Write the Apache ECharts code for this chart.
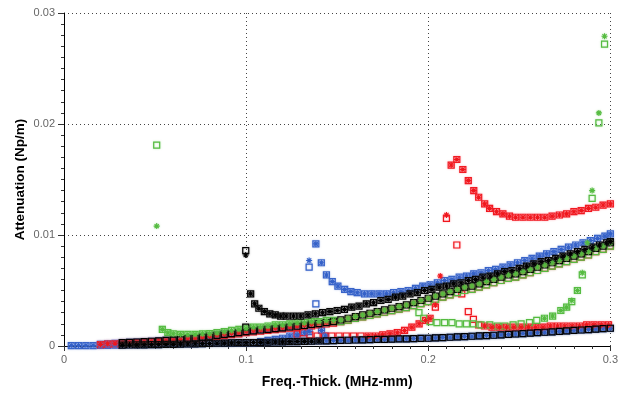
<!DOCTYPE html>
<html>
<head>
<meta charset="utf-8">
<script src="https://cdn.jsdelivr.net/npm/echarts@6/dist/echarts.min.js"></script>
<style>
  html, body { margin: 0; padding: 0; background: #fff; }
  #chart { width: 621px; height: 394px; }
</style>
</head>
<body>
<div id="chart"></div>
<script>
// ---- tick labels ----
const xTicks = [0, 0.1, 0.2, 0.3];
const yTicks = [0, 0.01, 0.02, 0.03];

// ---- shared frequency-thickness sampling of the bands (MHz-mm) ----
const gridX = [
  0.004,0.008,0.012,0.016,0.020,0.024,0.028,0.032,0.036,0.040,
  0.044,0.048,0.052,0.056,0.060,0.064,0.068,0.072,0.076,0.080,
  0.084,0.088,0.092,0.096,0.100,0.104,0.108,0.112,0.116,0.120,
  0.124,0.128,0.132,0.136,0.140,0.144,0.148,0.152,0.156,0.160,
  0.164,0.168,0.172,0.176,0.180,0.184,0.188,0.192,0.196,0.200,
  0.204,0.208,0.212,0.216,0.220,0.224,0.228,0.232,0.236,0.240,
  0.244,0.248,0.252,0.256,0.260,0.264,0.268,0.272,0.276,0.280,
  0.284,0.288,0.292,0.296,0.300
];
// low (near-zero) band attenuation (Np/m)
const lowBandY = [
  0.00004,0.00004,0.00004,0.00004,0.00005,0.00006,0.00007,0.00008,0.00009,0.0001,
  0.00011,0.00012,0.00013,0.00014,0.00015,0.00017,0.00018,0.0002,0.00021,0.00023,
  0.00025,0.00026,0.00028,0.0003,0.0003,0.00031,0.00033,0.00034,0.00036,0.00037,
  0.00039,0.0004,0.00042,0.00043,0.00045,0.00047,0.00049,0.0005,0.00052,0.00054,
  0.00055,0.00057,0.00059,0.0006,0.00062,0.00064,0.00065,0.00067,0.00069,0.0007,
  0.00073,0.00076,0.00079,0.00082,0.00085,0.00088,0.00091,0.00094,0.00097,0.001,
  0.00104,0.00108,0.00112,0.00116,0.0012,0.00124,0.00128,0.00132,0.00136,0.0014,
  0.00144,0.00148,0.00152,0.00156,0.0016
];
// main rising band attenuation (Np/m)
const mainBandY = [
  null,null,null,null,0.00015,0.0002,0.00025,0.0003,0.00033,0.00036,
  0.0004,0.00043,0.00046,0.0005,0.00053,0.00058,0.00065,0.0007,0.0008,0.00088,
  0.00096,0.00104,0.00112,0.0012,0.0013,0.00137,0.00144,0.0015,0.00157,0.00164,
  0.00171,0.00178,0.00186,0.00194,0.00202,0.0021,0.0022,0.00235,0.0025,0.00265,
  0.0028,0.00295,0.0031,0.00325,0.0034,0.00355,0.0037,0.0039,0.0041,0.0043,
  0.0045,0.0047,0.0049,0.0051,0.0053,0.0054,0.0056,0.0058,0.006,0.0062,
  0.0064,0.0065,0.0067,0.0069,0.0071,0.0073,0.0075,0.0077,0.0079,0.0081,
  0.0083,0.0085,0.0088,0.009,0.0093
];
// lower edge of the main band (red / green squares)
const mainBandLowerY = [
  null,null,null,null,0.00012,0.00016,0.0002,0.00024,0.00027,0.0003,
  0.00034,0.00037,0.0004,0.00043,0.00046,0.0005,0.00056,0.00062,0.0007,0.00078,
  0.00086,0.00094,0.00102,0.0011,0.0012,0.00127,0.00134,0.0014,0.00147,0.00154,
  0.00161,0.00168,0.00175,0.00182,0.0019,0.00198,0.00206,0.0022,0.00234,0.00248,
  0.00262,0.00276,0.0029,0.00304,0.00318,0.00332,0.00346,0.00364,0.00382,0.004,
  0.0042,0.0044,0.0046,0.0048,0.005,0.0051,0.0053,0.0055,0.0057,0.0059,
  0.0061,0.0062,0.0064,0.0066,0.0068,0.007,0.0072,0.0074,0.0076,0.0078,
  0.008,0.0082,0.0085,0.0087,0.009
];

// ---- blue branches ----
const blueUpper = [
  [0.1383,0.0092],[0.1413,0.0075],[0.1441,0.0064],[0.1473,0.0058],[0.1504,0.0054],[0.1541,0.0051],
  [0.1575,0.0049],[0.161,0.0048],[0.165,0.0047],[0.169,0.0047],[0.173,0.0047],[0.177,0.0047],
  [0.181,0.0048],[0.185,0.0049],[0.189,0.005],[0.193,0.0052],[0.197,0.0054],[0.201,0.0055],
  [0.205,0.0057],[0.209,0.0059],[0.213,0.006],[0.217,0.0062],[0.221,0.0063],[0.225,0.0065],
  [0.229,0.0066],[0.233,0.0068],[0.237,0.0069],[0.241,0.0071],[0.245,0.0073],[0.249,0.0075],
  [0.253,0.0077],[0.257,0.0079],[0.261,0.0081],[0.265,0.0083],[0.269,0.0085],[0.273,0.0087],
  [0.277,0.0089],[0.281,0.0091],[0.285,0.0093],[0.289,0.0095],[0.293,0.0097],[0.297,0.0099],
  [0.300,0.0101]
];
const blueBump = [
  [0.108,0.0004],[0.112,0.0005],[0.116,0.0006],[0.120,0.0007],[0.124,0.0009],[0.128,0.0010],
  [0.132,0.0012],[0.1346,0.0013],[0.1414,0.0014],[0.1435,0.0009]
];
const blueExtraSq = [[0.1346,0.0071],[0.1383,0.0038]];
const blueExtraStar = [[0.1346,0.0077]];

// ---- red branches ----
const redLow = [
  [0.128,0.0011],[0.131,0.0012],[0.135,0.001],[0.139,0.0009],[0.143,0.0009],[0.147,0.0009],
  [0.151,0.0009],[0.155,0.0009],[0.159,0.0009],[0.163,0.0009],[0.167,0.0009],[0.171,0.0009],
  [0.175,0.001],[0.179,0.0011],[0.183,0.0012],[0.187,0.0014],[0.191,0.0017],[0.195,0.002],
  [0.1985,0.0023],[0.201,0.0025]
];
const redSpikeSq = [
  [0.2039,0.0035],[0.2100,0.0115],[0.2157,0.0091],[0.2184,0.0047],[0.2220,0.0031],
  [0.2248,0.0024],[0.2277,0.0019]
];
const redSpikeStar = [[0.2039,0.0037],[0.2066,0.0063],[0.2100,0.0118]];
const redUpper = [
  [0.2126,0.0163],[0.2157,0.0168],[0.219,0.0159],[0.222,0.0149],[0.225,0.014],[0.2277,0.0134],
  [0.231,0.0128],[0.2337,0.0124],[0.2375,0.0121],[0.241,0.0119],[0.2446,0.0117],[0.248,0.0116],
  [0.252,0.0116],[0.256,0.0116],[0.260,0.0116],[0.264,0.0116],[0.268,0.0117],[0.272,0.0118],
  [0.276,0.0119],[0.280,0.0121],[0.284,0.0122],[0.288,0.0124],[0.292,0.0125],[0.296,0.0127],
  [0.300,0.0128]
];
const redFlat = [
  [0.231,0.0018],[0.235,0.0017],[0.239,0.0017],[0.243,0.0017],[0.247,0.0017],[0.251,0.0017],
  [0.255,0.0017],[0.259,0.0017],[0.263,0.0017],[0.267,0.0018],[0.271,0.0018],[0.275,0.0018],
  [0.279,0.0018],[0.283,0.0018],[0.287,0.0019],[0.291,0.0019],[0.295,0.0019],[0.299,0.0019]
];

// ---- green branches ----
const greenSpikeSq = [[0.0509,0.0181]];
const greenSpikeStar = [[0.0509,0.0108]];
const greenLeft = [
  [0.054,0.0015],[0.057,0.0012],[0.060,0.0011],[0.064,0.00105],[0.068,0.00104],[0.072,0.00105],
  [0.076,0.0011],[0.080,0.00112],[0.084,0.0012],[0.088,0.0013],[0.092,0.0014],[0.096,0.0015],
  [0.100,0.0016],[0.104,0.0017],[0.108,0.0017],[0.112,0.0018],[0.116,0.0019],[0.120,0.0019],
  [0.124,0.002],[0.128,0.0021],[0.132,0.0021],[0.136,0.0022],[0.140,0.0022],[0.144,0.0023],
  [0.148,0.0023]
];
const greenRightSq = [
  [0.1949,0.003],[0.1975,0.0025],[0.201,0.0022],[0.2048,0.0021],[0.209,0.0021],[0.213,0.0021],
  [0.217,0.002],[0.221,0.002],[0.2248,0.002],[0.229,0.0019],[0.2338,0.0019],[0.238,0.0018],
  [0.242,0.0018],[0.2466,0.0019],[0.251,0.002],[0.2556,0.0021],[0.2596,0.0023],[0.2638,0.0025],
  [0.2683,0.0027],[0.2728,0.0032],[0.276,0.0035],[0.2788,0.004],[0.2819,0.005],[0.2846,0.0064],
  [0.2900,0.0133],[0.2937,0.0201],[0.2968,0.0272]
];
const greenRightStar = [
  [0.2638,0.0025],[0.2683,0.0027],[0.2728,0.0032],[0.276,0.0035],[0.2788,0.0041],[0.2819,0.005],
  [0.2846,0.0066],[0.2874,0.0093],[0.2900,0.014],[0.2937,0.021],[0.2968,0.0279]
];

// ---- black branches ----
const blackSpikeSq = [[0.0998,0.0086],[0.0998,0.0017]];
const blackSpikeStar = [[0.0998,0.0082]];
const blackUpper = [
  [0.1025,0.0047],[0.1047,0.0038],[0.107,0.0034],[0.110,0.0031],[0.113,0.0029],[0.116,0.0028],
  [0.119,0.0027],[0.122,0.0027],[0.126,0.0027],[0.130,0.0027],[0.134,0.0028],[0.138,0.0029],
  [0.142,0.003],[0.146,0.0031],[0.150,0.0032],[0.154,0.0033],[0.158,0.0035],[0.162,0.0036],
  [0.166,0.0038],[0.170,0.0039],[0.174,0.0041],[0.178,0.0042],[0.182,0.0044],[0.186,0.0045],
  [0.190,0.0047],[0.194,0.0048],[0.198,0.005],[0.202,0.0051],[0.206,0.0053],[0.210,0.0054],
  [0.214,0.0056],[0.218,0.0057],[0.222,0.0059],[0.226,0.006],[0.230,0.0062],[0.234,0.0063],
  [0.238,0.0065],[0.242,0.0067],[0.246,0.0068],[0.250,0.007],[0.254,0.0072],[0.258,0.0074],
  [0.262,0.0076],[0.266,0.0077],[0.270,0.0079],[0.274,0.0081],[0.278,0.0083],[0.282,0.0085],
  [0.286,0.0087],[0.290,0.0089],[0.294,0.0091],[0.298,0.0093],[0.300,0.0094]
];

// ---- helpers ----
function band(ys, x0, x1) {
  return gridX.map((x, i) => [x, ys[i]])
    .filter(p => p[1] != null && p[0] >= x0 - 1e-9 && p[0] <= x1 + 1e-9);
}
const COLORS = { red: '#f0161c', green: '#55bb40', blue: '#3360c8', black: '#000000' };
const HALO = { red: 'rgba(255,90,110,0.55)', green: 'rgba(120,210,110,0.55)', blue: 'rgba(110,140,220,0.55)', black: 'rgba(90,90,90,0.5)' };
const STAR = 'path://M4,0L4,8M0,4L8,4M1.2,1.2L6.8,6.8M1.2,6.8L6.8,1.2';

function sq(name, c, data) {
  return {
    name, type: 'scatter', data, symbol: 'rect', symbolSize: 6,
    itemStyle: { color: 'rgba(0,0,0,0)', borderColor: COLORS[c], borderWidth: 1.2, opacity: 1,
      shadowBlur: 2, shadowColor: HALO[c] },
    emphasis: { disabled: true }, animation: false
  };
}
function star(name, c, data) {
  return {
    name, type: 'scatter', data, symbol: STAR, symbolSize: 6,
    itemStyle: { color: COLORS[c], borderColor: COLORS[c], borderWidth: 1.1, opacity: 1,
      shadowBlur: 2, shadowColor: HALO[c] },
    emphasis: { disabled: true }, animation: false
  };
}

const series = [
  sq('Blue (sq)', 'blue', [].concat(band(lowBandY, 0, 0.3), band(mainBandY, 0.02, 0.128), blueBump, blueUpper, blueExtraSq)),
  sq('Red (sq)', 'red', [].concat(band(mainBandLowerY, 0.02, 0.3), redLow, redSpikeSq, redUpper, redFlat)),
  sq('Green (sq)', 'green', [].concat(greenSpikeSq, greenLeft, band(mainBandLowerY, 0.152, 0.3), greenRightSq)),
  star('Blue (*)', 'blue', [].concat(band(lowBandY, 0, 0.3), band(mainBandY, 0.02, 0.128), blueBump, blueUpper, blueExtraStar)),
  star('Red (*)', 'red', [].concat(band(mainBandY, 0.02, 0.3), redLow.filter(p => p[0] > 0.165), redSpikeStar, redUpper, redFlat)),
  sq('Black (sq)', 'black', [].concat(band(lowBandY, 0.032, 0.3), band(mainBandY, 0.032, 0.3), blackSpikeSq, blackUpper)),
  star('Green (*)', 'green', [].concat(greenSpikeStar, greenLeft, band(mainBandY, 0.152, 0.3), greenRightStar)),
  star('Black (*)', 'black', [].concat(band(lowBandY, 0.032, 0.14), blackSpikeStar, blackUpper))
];

const chart = echarts.init(document.getElementById('chart'), null, { renderer: 'canvas' });
const font = 'Liberation Sans, Arial, sans-serif';
chart.setOption({
  animation: false,
  backgroundColor: '#ffffff',
  grid: { left: 64, right: 6, top: 13, bottom: 42, containLabel: false },
  xAxis: {
    type: 'value', min: xTicks[0], max: xTicks[xTicks.length - 1], interval: xTicks[1] - xTicks[0],
    name: 'Freq.-Thick. (MHz-mm)', nameLocation: 'middle', nameGap: 29, nameMoveOverlap: false,
    nameTextStyle: { fontFamily: font, fontWeight: 'bold', fontSize: 14, color: '#000' },
    axisLine: { show: true, onZero: false, lineStyle: { color: '#000', width: 1 } },
    axisTick: { show: true, length: 5, lineStyle: { color: '#333' } },
    minorTick: { show: true, splitNumber: 10, length: 3, lineStyle: { color: '#333' } },
    axisLabel: { fontFamily: font, fontSize: 11, color: '#666', margin: 8,
      formatter: v => String(+v.toFixed(2)) },
    splitLine: { show: true, lineStyle: { color: '#444', width: 1, type: [1, 3] } }
  },
  yAxis: {
    type: 'value', min: yTicks[0], max: yTicks[yTicks.length - 1], interval: yTicks[1] - yTicks[0],
    name: 'Attenuation (Np/m)', nameLocation: 'middle', nameGap: 37, nameMoveOverlap: false,
    nameTextStyle: { fontFamily: font, fontWeight: 'bold', fontSize: 13.5, color: '#000' },
    axisLine: { show: true, onZero: false, lineStyle: { color: '#000', width: 1 } },
    axisTick: { show: true, length: 6, lineStyle: { color: '#333' } },
    minorTick: { show: true, splitNumber: 10, length: 3, lineStyle: { color: '#333' } },
    axisLabel: { fontFamily: font, fontSize: 11, color: '#666', margin: 9,
      formatter: v => String(+v.toFixed(3)) },
    splitLine: { show: true, lineStyle: { color: '#444', width: 1, type: [1, 3] } }
  },
  series
});
</script>
</body>
</html>
